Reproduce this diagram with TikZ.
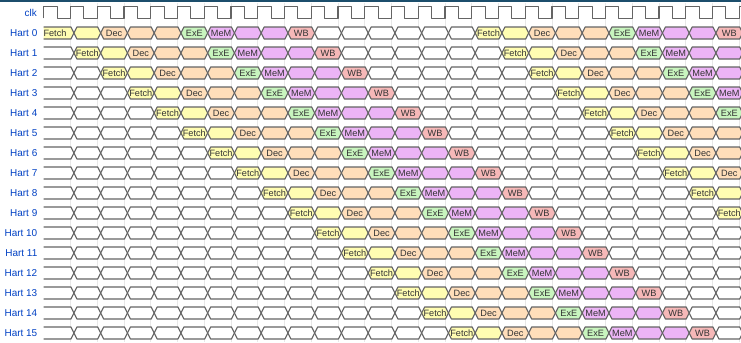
\documentclass[tikz,border=0pt]{standalone}
\usepackage{fontspec}
\setmainfont{Liberation Sans}
\definecolor{lblue}{HTML}{0041C4}
\definecolor{cF}{RGB}{255,253,178}
\definecolor{cD}{RGB}{255,222,186}
\definecolor{cE}{RGB}{200,245,190}
\definecolor{cM}{RGB}{236,180,246}
\definecolor{cW}{RGB}{246,184,184}
\definecolor{lc}{RGB}{100,100,100}
\definecolor{topbar}{RGB}{28,78,108}
\tikzset{
  wave/.style={draw=lc, line width=1.1bp, line join=round},
  lbl/.style={anchor=east, text=lblue, font=\fontsize{10}{12}\selectfont, inner sep=0pt},
  celltxt/.style={text=black!80, font=\fontsize{9.2}{11}\selectfont, inner sep=0pt},
  gridln/.style={draw=black!9, line width=0.6bp}
}
\begin{document}
\begin{tikzpicture}[x=1bp,y=-1bp]
\useasboundingbox (0,0) rectangle (741,342);
\fill[white] (0,0) rectangle (741,342);
\begin{scope}
\clip (0,0) rectangle (741,342);
% grid
\foreach \n in {1,...,26} {
  \pgfmathsetmacro{\gx}{43.7+26.75*\n}
  \draw[gridln] (\gx,3) -- (\gx,342);
}
% clock
\node[lbl] (clk) at (37,12.5) {clk};
\draw[wave] (43.7,18.3) \foreach \i in {0,...,26} { -- ++(0,-11.6) -- ++(13.375,0) -- ++(0,11.6) -- ++(13.375,0) };
% harts
\foreach \k in {0,...,15} {
  \pgfmathsetmacro{\y}{33+20*\k}
  \node[lbl] (h\k) at (37.5,\y) {Hart \k};
  \foreach \n in {0,...,25} {
    \pgfmathtruncatemacro{\m}{\n-\k}
    \ifnum\m<0 \def\p{10}\else \pgfmathtruncatemacro{\p}{mod(\m,16)}\fi
    \ifcase\p \def\fc{cF}\def\tx{Fetch}%
    \or \def\fc{cF}\def\tx{}%
    \or \def\fc{cD}\def\tx{Dec}%
    \or \def\fc{cD}\def\tx{}%
    \or \def\fc{cD}\def\tx{}%
    \or \def\fc{cE}\def\tx{ExE}%
    \or \def\fc{cM}\def\tx{MeM}%
    \or \def\fc{cM}\def\tx{}%
    \or \def\fc{cM}\def\tx{}%
    \or \def\fc{cW}\def\tx{WB}%
    \else \def\fc{white}\def\tx{}%
    \fi
    \pgfmathsetmacro{\L}{43.7+26.75*\n+3.5}
    \pgfmathsetmacro{\R}{\L+26.75}
    \ifnum\n=0
      \fill[\fc] (43.7,\y-6) -- (\R-3,\y-6) -- (\R,\y) -- (\R-3,\y+6) -- (43.7,\y+6) -- cycle;
      \draw[wave] (43.7,\y-6) -- (\R-3,\y-6) -- (\R,\y) -- (\R-3,\y+6) -- (43.7,\y+6);
      \node[celltxt] (t\k-\n) at (55,\y) {\tx};
    \else
      \filldraw[wave, fill=\fc] (\L,\y) -- (\L+3,\y-6) -- (\R-3,\y-6) -- (\R,\y) -- (\R-3,\y+6) -- (\L+3,\y+6) -- cycle;
      \node[celltxt] (t\k-\n) at ({(\L+\R)/2},\y) {\tx};
    \fi
  }
}
\end{scope}
\fill[topbar] (0,0) rectangle (741,1.6);
\end{tikzpicture}
\end{document}
